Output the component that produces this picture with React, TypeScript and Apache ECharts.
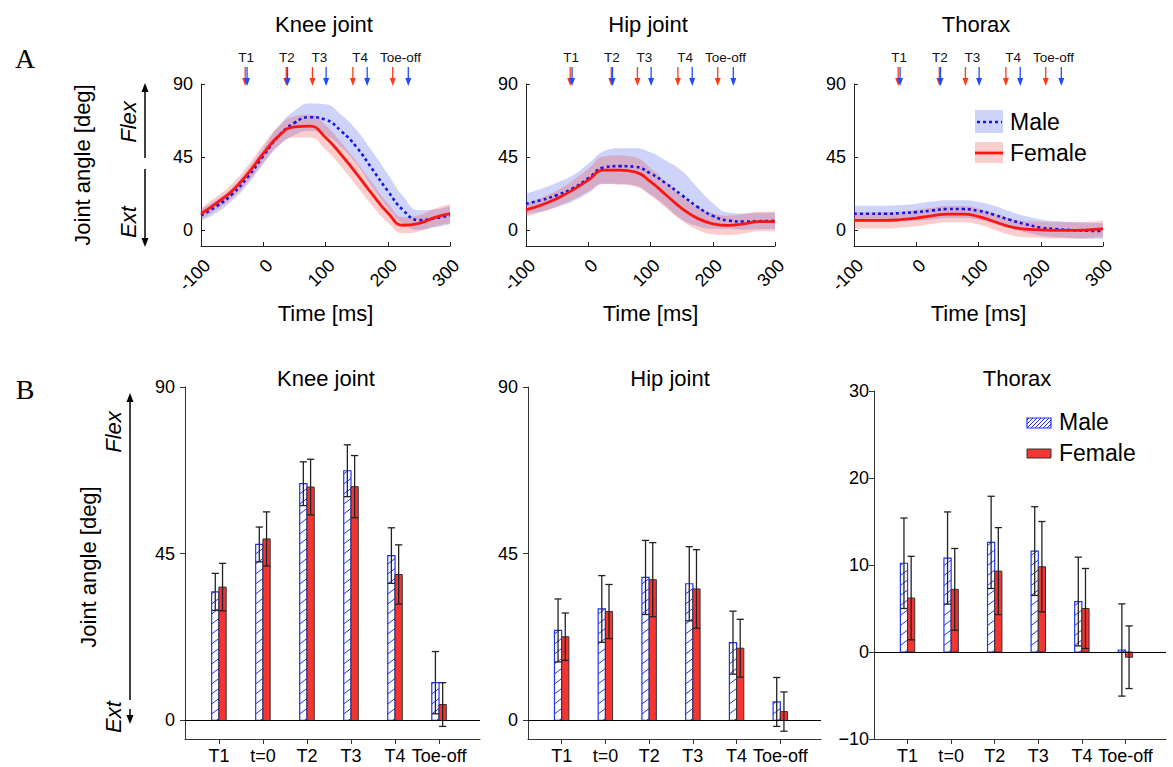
import React, { useEffect, useRef } from "react";
import * as echarts from "echarts";

// ---------- Panel A: time series (mean ± SD) ----------
const timeMs = [-100, -75, -50, -25, 0, 25, 50, 75, 100, 125, 150, 175, 200, 225, 250, 275, 300];

const kneeMaleMean = [9, 14.5, 22, 32.5, 45.5, 58, 66, 69.5, 68, 61, 51, 37.5, 24, 12, 6, 7, 9];
const kneeMaleSd = [3.5, 4, 4, 4.5, 5, 6, 7.5, 8.5, 9.5, 10, 10.5, 11, 10.5, 8.5, 6, 5.5, 5.5];
const kneeFemaleMean = [9.9, 16.5, 24, 34.5, 47, 58, 63.5, 64, 57, 46.5, 34.5, 22, 10.5, 2.8, 4, 7.5, 10];
const kneeFemaleSd = [3.5, 4, 4.5, 5, 5.5, 6, 6.5, 7, 7.5, 7.5, 7.5, 7, 6, 5, 5, 5.5, 6];

const hipMaleMean = [16, 18.4, 21.5, 25.6, 31.7, 38.5, 39.3, 38.9, 34.8, 28.6, 21.5, 14.3, 8.6, 5.7, 5.1, 5.3, 5.5];
const hipMaleSd = [6.5, 7, 7.5, 8, 9, 10, 11, 11.5, 13, 14, 15, 12, 8, 5, 5, 5, 5];
const hipFemaleMean = [12.3, 15.3, 19.4, 24.5, 30.7, 36.8, 36.8, 35.8, 29.7, 21.5, 13.3, 7.2, 3.7, 2.7, 3.7, 5.1, 5.1];
const hipFemaleSd = [4, 4.5, 5, 6, 7, 8.5, 9, 9, 8.5, 8, 7.5, 7, 6.5, 6, 6, 6, 6];

const thoraxMaleMean = [9.9, 9.9, 9.9, 10.3, 10.9, 11.9, 12.8, 12.8, 11.7, 9.3, 6.2, 3.5, 1.4, 0.4, -0.2, -0.6, -0.8];
const thoraxMaleSd = [5, 5, 5, 5, 5.2, 5.5, 5.5, 5.5, 5.5, 5.5, 5.2, 5, 5, 5, 5, 5, 5];
const thoraxFemaleMean = [5.8, 5.8, 5.8, 6.3, 7.2, 8.6, 9.7, 9.7, 8.2, 5.1, 2, 0.4, 0, -0.4, -0.4, 0, 0.6];
const thoraxFemaleSd = [5, 5, 5, 5, 5, 5, 5, 5, 5, 5, 5, 5, 5, 5, 5, 5, 5];

const eventLabels = ["T1", "T2", "T3", "T4", "Toe-off"];
const eventFemaleMs = [-29, 37, 79, 144, 208];
const eventMaleMs = [-26, 39, 101, 167, 233];

const timeTicks = [-100, 0, 100, 200, 300];
const angleTicksA = [0, 45, 90];

// ---------- Panel B: bars (mean ± SD) ----------
const barCategories = ["T1", "t=0", "T2", "T3", "T4", "Toe-off"];

const kneeBarMaleMean = [34.7, 47.5, 63.9, 67.4, 44.5, 10.2];
const kneeBarMaleSd = [5, 4.7, 5.9, 7, 7.5, 8.4];
const kneeBarFemaleMean = [36, 49, 63, 63.1, 39.4, 4.3];
const kneeBarFemaleSd = [6.4, 7.3, 7.5, 8.4, 8, 5.9];

const hipBarMaleMean = [24.3, 30.1, 38.6, 36.9, 21, 5];
const hipBarMaleSd = [8.5, 9, 10, 10, 8.5, 6.6];
const hipBarFemaleMean = [22.6, 29.4, 38, 35.5, 19.5, 2.4];
const hipBarFemaleSd = [6.4, 7.3, 10, 10.6, 7.8, 5.3];

const thoraxBarMaleMean = [10.2, 10.8, 12.6, 11.6, 5.8, 0.23];
const thoraxBarMaleSd = [5.2, 5.3, 5.3, 5.1, 5.1, 5.3];
const thoraxBarFemaleMean = [6.2, 7.2, 9.3, 9.8, 5.0, -0.6];
const thoraxBarFemaleSd = [4.8, 4.7, 5, 5.2, 4.6, 3.6];

const jointAngleTicksB = [0, 45, 90];
const thoraxTicksB = [-10, 0, 10, 20, 30];

// ---------- styling ----------
const FONT = '"Liberation Sans", Arial, Helvetica, sans-serif';
const SERIF = '"Liberation Serif", "Times New Roman", serif';
const BLUE_LINE = "#1414e6";
const RED_LINE = "#ff1414";
const BLUE_BAND = "rgba(60,80,230,0.25)";
const RED_BAND = "rgba(240,60,60,0.25)";
const ARROW_RED = "#ff3a1a";
const ARROW_BLUE = "#1a4dff";
const BAR_BLUE = "#1f33f0";
const BAR_RED = "#f43530";
const AXIS = "#222";

const panelsA = [
  { title: "Knee joint", tx: 324, left: 201, mM: kneeMaleMean, mS: kneeMaleSd, fM: kneeFemaleMean, fS: kneeFemaleSd },
  { title: "Hip joint", tx: 648, left: 526, mM: hipMaleMean, mS: hipMaleSd, fM: hipFemaleMean, fS: hipFemaleSd },
  { title: "Thorax", tx: 976, left: 854, mM: thoraxMaleMean, mS: thoraxMaleSd, fM: thoraxFemaleMean, fS: thoraxFemaleSd },
];

const panelsB = [
  { title: "Knee joint", tx: 326, left: 185, top: 387, width: 295, height: 352, min: -5, max: 90, ticks: jointAngleTicksB, margin: 10, mM: kneeBarMaleMean, mS: kneeBarMaleSd, fM: kneeBarFemaleMean, fS: kneeBarFemaleSd },
  { title: "Hip joint", tx: 670, left: 528, top: 387, width: 293, height: 352, min: -5, max: 90, ticks: jointAngleTicksB, margin: 10, mM: hipBarMaleMean, mS: hipBarMaleSd, fM: hipBarFemaleMean, fS: hipBarFemaleSd },
  { title: "Thorax", tx: 1017, left: 874, top: 391, width: 292, height: 348, min: -10, max: 30, ticks: thoraxTicksB, margin: 5, mM: thoraxBarMaleMean, mS: thoraxBarMaleSd, fM: thoraxBarFemaleMean, fS: thoraxBarFemaleSd },
];

function hatchSegments(x0: number, w: number, yTop: number, yBot: number, spacing: number, rise: number, color: string, lw: number) {
  const out: any[] = [];
  for (let yb = yBot + rise - 2; yb > yTop; yb -= spacing) {
    const s0 = Math.max(0, (yb - yBot) / rise);
    const s1 = Math.min(1, (yb - yTop) / rise);
    if (s1 > s0) {
      out.push({
        type: "line",
        shape: { x1: x0 + s0 * w, y1: yb - s0 * rise, x2: x0 + s1 * w, y2: yb - s1 * rise },
        style: { stroke: color, lineWidth: lw },
      });
    }
  }
  return out;
}

function eventRender(params: any, api: any) {
  const tf = api.value(0);
  const tm = api.value(2);
  const k = api.value(3);
  const pf = api.coord([tf, 90]);
  const pm = api.coord([tm, 90]);
  const y0 = pf[1];
  const arrow = (x: number, color: string) => [
    { type: "line", shape: { x1: x, y1: y0 - 17, x2: x, y2: y0 - 4 }, style: { stroke: color, lineWidth: 1.3 } },
    { type: "polygon", shape: { points: [[x - 3, y0 - 6], [x + 3, y0 - 6], [x, y0 + 2]] }, style: { fill: color } },
  ];
  const xm = (pf[0] + pm[0]) / 2;
  return {
    type: "group",
    children: [
      ...arrow(pf[0], ARROW_RED),
      ...arrow(pm[0], ARROW_BLUE),
      {
        type: "text",
        x: xm,
        y: y0 - 27,
        style: { text: eventLabels[k], fontSize: 13.5, fontFamily: FONT, fill: "#111", align: "center", verticalAlign: "middle" },
      },
    ],
  };
}

function barRender(params: any, api: any) {
  const i = api.value(0);
  const mMean = api.value(1);
  const mSd = api.value(2);
  const fMean = api.value(3);
  const fSd = api.value(4);
  const base = api.coord([i, 0]);
  const cx = base[0];
  const y0 = base[1];
  const unit = api.size([1, 0])[0];
  const bw = unit * 0.165;
  const yOf = (v: number) => api.coord([i, v])[1];
  const children: any[] = [];

  const mTop = yOf(mMean);
  const mr0 = Math.min(mTop, y0);
  const mr1 = Math.max(mTop, y0);
  children.push({ type: "rect", shape: { x: cx - bw, y: mr0, width: bw, height: mr1 - mr0 }, style: { fill: "#fff", stroke: null } });
  children.push(...hatchSegments(cx - bw, bw, mr0, mr1, 10, 5.5, BAR_BLUE, 1));
  children.push({ type: "rect", shape: { x: cx - bw, y: mr0, width: bw, height: mr1 - mr0 }, style: { fill: "none", stroke: BAR_BLUE, lineWidth: 1.2 } });

  const fTop = yOf(fMean);
  const fr0 = Math.min(fTop, y0);
  const fr1 = Math.max(fTop, y0);
  children.push({ type: "rect", shape: { x: cx, y: fr0, width: bw, height: fr1 - fr0 }, style: { fill: BAR_RED, stroke: "#333", lineWidth: 1 } });

  const eb = (x: number, mean: number, sd: number) => {
    const yt = yOf(mean + sd);
    const yb = yOf(mean - sd);
    const h = bw / 2;
    const st = { stroke: "#222", lineWidth: 1.3 };
    children.push({ type: "line", shape: { x1: x, y1: yt, x2: x, y2: yb }, style: st });
    children.push({ type: "line", shape: { x1: x - h, y1: yt, x2: x + h, y2: yt }, style: st });
    children.push({ type: "line", shape: { x1: x - h, y1: yb, x2: x + h, y2: yb }, style: st });
  };
  eb(cx - bw / 2, mMean, mSd);
  eb(cx + bw / 2, fMean, fSd);
  return { type: "group", children };
}

function vArrow(x: number, y1: number, y2: number, headUp: boolean) {
  const hl = 9;
  const hw = 3.5;
  if (headUp) {
    return [
      { type: "line", shape: { x1: x, y1: y1 + hl - 1, x2: x, y2: y2 }, style: { stroke: "#000", lineWidth: 1.5 } },
      { type: "polygon", shape: { points: [[x, y1], [x - hw, y1 + hl], [x + hw, y1 + hl]] }, style: { fill: "#000" } },
    ];
  }
  return [
    { type: "line", shape: { x1: x, y1: y1, x2: x, y2: y2 - hl + 1 }, style: { stroke: "#000", lineWidth: 1.5 } },
    { type: "polygon", shape: { points: [[x, y2], [x - hw, y2 - hl], [x + hw, y2 - hl]] }, style: { fill: "#000" } },
  ];
}

function txt(text: string, x: number, y: number, size: number, extra: any = {}) {
  return {
    type: "text",
    x,
    y,
    rotation: extra.rotation || 0,
    style: {
      text,
      fontSize: size,
      fontFamily: extra.fontFamily || FONT,
      fontStyle: extra.fontStyle || "normal",
      fill: "#000",
      align: extra.align || "center",
      verticalAlign: "middle",
    },
  };
}

function buildOption() {
  const grids: any[] = [];
  const xAxes: any[] = [];
  const yAxes: any[] = [];
  const series: any[] = [];
  const hiddenCat: any[] = [];

  panelsA.forEach((p, i) => {
    grids.push({ left: p.left, top: 84, width: 249, height: 162, containLabel: false, outerBoundsMode: "none" });
    xAxes.push({
      gridIndex: i,
      type: "value",
      min: -100,
      max: 300,
      interval: 100,
      name: "Time [ms]",
      nameLocation: "middle",
      nameGap: 56,
      nameTextStyle: { fontSize: 22, color: "#000", fontFamily: FONT },
      axisLine: { onZero: false, lineStyle: { color: AXIS, width: 1 } },
      axisTick: { inside: true, length: 4, customValues: timeTicks, lineStyle: { color: AXIS } },
      axisLabel: { rotate: 45, fontSize: 18, color: "#000", margin: 10, verticalAlign: "top", customValues: timeTicks },
      splitLine: { show: false },
    });
    // hidden evenly spaced category axis (same sample times) used for stacking the SD bands
    hiddenCat.push({
      gridIndex: i,
      type: "category",
      data: timeMs.map(String),
      boundaryGap: false,
      show: false,
    });
    yAxes.push({
      gridIndex: i,
      type: "value",
      min: -10,
      max: 90,
      axisLine: { show: true, onZero: false, lineStyle: { color: AXIS, width: 1 } },
      axisTick: { show: true, inside: true, length: 4, customValues: angleTicksA, lineStyle: { color: AXIS } },
      axisLabel: { fontSize: 18, color: "#000", margin: 8, customValues: angleTicksA },
      splitLine: { show: false },
    });
  });

  panelsB.forEach((p, j) => {
    const gi = j + 3;
    grids.push({ left: p.left, top: p.top, width: p.width, height: p.height, containLabel: false, outerBoundsMode: "none" });
    const catTicks = barCategories.map((_, k) => k + 1);
    xAxes.push({
      gridIndex: gi,
      type: "value",
      min: 0.23,
      max: 6.93,
      axisLine: { onZero: false, lineStyle: { color: "#333", width: 1 } },
      axisTick: { inside: false, length: 5, customValues: catTicks, lineStyle: { color: "#333" } },
      axisLabel: {
        fontSize: 18,
        color: "#000",
        margin: 8,
        customValues: catTicks,
        formatter: (v: number) => barCategories[Math.round(v) - 1] || "",
      },
      splitLine: { show: false },
    });
    yAxes.push({
      gridIndex: gi,
      type: "value",
      min: p.min,
      max: p.max,
      axisLine: { show: true, onZero: false, lineStyle: { color: "#333", width: 1 } },
      axisTick: { show: true, inside: false, length: 5, customValues: p.ticks, lineStyle: { color: "#333" } },
      axisLabel: {
        fontSize: 18,
        color: "#000",
        margin: p.margin,
        customValues: p.ticks,
        formatter: (v: number) => (v < 0 ? "\u2212" + Math.abs(v) : String(v)),
      },
      splitLine: { show: false },
    });
    series.push({
      type: "custom",
      xAxisIndex: gi,
      yAxisIndex: gi,
      silent: true,
      encode: { x: 0, y: 1 },
      data: barCategories.map((_, k) => [k + 1, p.mM[k], p.mS[k], p.fM[k], p.fS[k]]),
      renderItem: barRender,
      markLine: {
        silent: true,
        symbol: "none",
        label: { show: false },
        lineStyle: { color: "#000", type: "solid", width: 1.2 },
        data: [{ yAxis: 0 }],
      },
    });
  });

  // series for panel A (hidden category axes are indices 6,7,8)
  panelsA.forEach((p, i) => {
    const catIdx = 6 + i;
    const band = { xAxisIndex: catIdx, yAxisIndex: i, smooth: true, symbol: "none", silent: true, type: "line", stackStrategy: "all" };
    series.push({ ...band, stack: "m" + i, data: timeMs.map((_, k) => p.mM[k] - p.mS[k]), lineStyle: { opacity: 0 } });
    series.push({ ...band, stack: "m" + i, data: timeMs.map((_, k) => 2 * p.mS[k]), lineStyle: { opacity: 0 }, areaStyle: { color: BLUE_BAND, opacity: 1 } });
    series.push({ ...band, stack: "f" + i, data: timeMs.map((_, k) => p.fM[k] - p.fS[k]), lineStyle: { opacity: 0 } });
    series.push({ ...band, stack: "f" + i, data: timeMs.map((_, k) => 2 * p.fS[k]), lineStyle: { opacity: 0 }, areaStyle: { color: RED_BAND, opacity: 1 } });
    const common = { xAxisIndex: i, yAxisIndex: i, smooth: true, symbol: "none", silent: true, type: "line" };
    series.push({ ...common, data: timeMs.map((t, k) => [t, p.mM[k]]), lineStyle: { color: BLUE_LINE, width: 2.6, type: [3, 3] } });
    series.push({ ...common, data: timeMs.map((t, k) => [t, p.fM[k]]), lineStyle: { color: RED_LINE, width: 2.8 } });
    series.push({
      type: "custom",
      xAxisIndex: i,
      yAxisIndex: i,
      silent: true,
      clip: false,
      encode: { x: 0, y: 1 },
      data: eventLabels.map((_, k) => [eventFemaleMs[k], 90, eventMaleMs[k], k]),
      renderItem: eventRender,
    });
  });

  const lh: any[] = [];
  for (let d = -8; d < 24; d += 4) {
    const xa = 1027 + d;
    const xb = xa + 10;
    const x1 = Math.max(1027, xa);
    const x2 = Math.min(1051, xb);
    if (x2 > x1) {
      lh.push({ type: "line", shape: { x1, y1: 428 - (x1 - xa), x2, y2: 428 - (x2 - xa) }, style: { stroke: BAR_BLUE, lineWidth: 1 } });
    }
  }

  const graphics: any[] = [
    txt("A", 25, 58, 28, { fontFamily: SERIF }),
    txt("B", 25, 389, 28, { fontFamily: SERIF }),
    ...panelsA.map((p) => txt(p.title, p.tx, 24, 22)),
    ...panelsB.map((p) => txt(p.title, p.tx, 378, 22)),
    txt("Joint angle [deg]", 82, 165, 22, { rotation: Math.PI / 2 }),
    txt("Joint angle [deg]", 88, 567, 22, { rotation: Math.PI / 2 }),
    txt("Flex", 128, 122, 22, { rotation: Math.PI / 2, fontStyle: "italic" }),
    txt("Ext", 128, 222, 22, { rotation: Math.PI / 2, fontStyle: "italic" }),
    txt("Flex", 113, 432, 22, { rotation: Math.PI / 2, fontStyle: "italic" }),
    txt("Ext", 113, 717, 22, { rotation: Math.PI / 2, fontStyle: "italic" }),
    ...vArrow(145, 83, 158, true),
    ...vArrow(145, 169, 247, false),
    ...vArrow(130, 393, 700, true),
    ...vArrow(130, 709, 724, false),
    // legend A
    { type: "rect", shape: { x: 975, y: 110, width: 28, height: 23 }, style: { fill: BLUE_BAND } },
    { type: "line", shape: { x1: 977, y1: 122, x2: 1002, y2: 122 }, style: { stroke: BLUE_LINE, lineWidth: 2.6, lineDash: [3, 3] } },
    txt("Male", 1010, 122, 23, { align: "left" }),
    { type: "rect", shape: { x: 975, y: 142, width: 28, height: 21 }, style: { fill: RED_BAND } },
    { type: "line", shape: { x1: 975, y1: 153, x2: 1003, y2: 153 }, style: { stroke: RED_LINE, lineWidth: 2.8 } },
    txt("Female", 1010, 153, 23, { align: "left" }),
    // legend B
    { type: "rect", shape: { x: 1027, y: 418, width: 24, height: 10 }, style: { fill: "#fff" } },
    ...lh,
    { type: "rect", shape: { x: 1027, y: 418, width: 24, height: 10 }, style: { fill: "none", stroke: BAR_BLUE, lineWidth: 1.2 } },
    txt("Male", 1059, 422, 23, { align: "left" }),
    { type: "rect", shape: { x: 1027, y: 449, width: 24, height: 9 }, style: { fill: BAR_RED, stroke: "#333", lineWidth: 1 } },
    txt("Female", 1059, 453, 23, { align: "left" }),
  ];

  return {
    animation: false,
    backgroundColor: "#fff",
    textStyle: { fontFamily: FONT },
    grid: grids,
    xAxis: [...xAxes, ...hiddenCat],
    yAxis: yAxes,
    series,
    graphic: { elements: graphics },
  };
}

export default function App() {
  const ref = useRef<HTMLDivElement>(null);
  useEffect(() => {
    if (!ref.current) return;
    const chart = echarts.init(ref.current, undefined, { renderer: "svg" });
    chart.setOption(buildOption() as any);
    return () => chart.dispose();
  }, []);
  return <div ref={ref} style={{ position: "fixed", left: 0, top: 0, width: 1173, height: 767, background: "#fff" }} />;
}
